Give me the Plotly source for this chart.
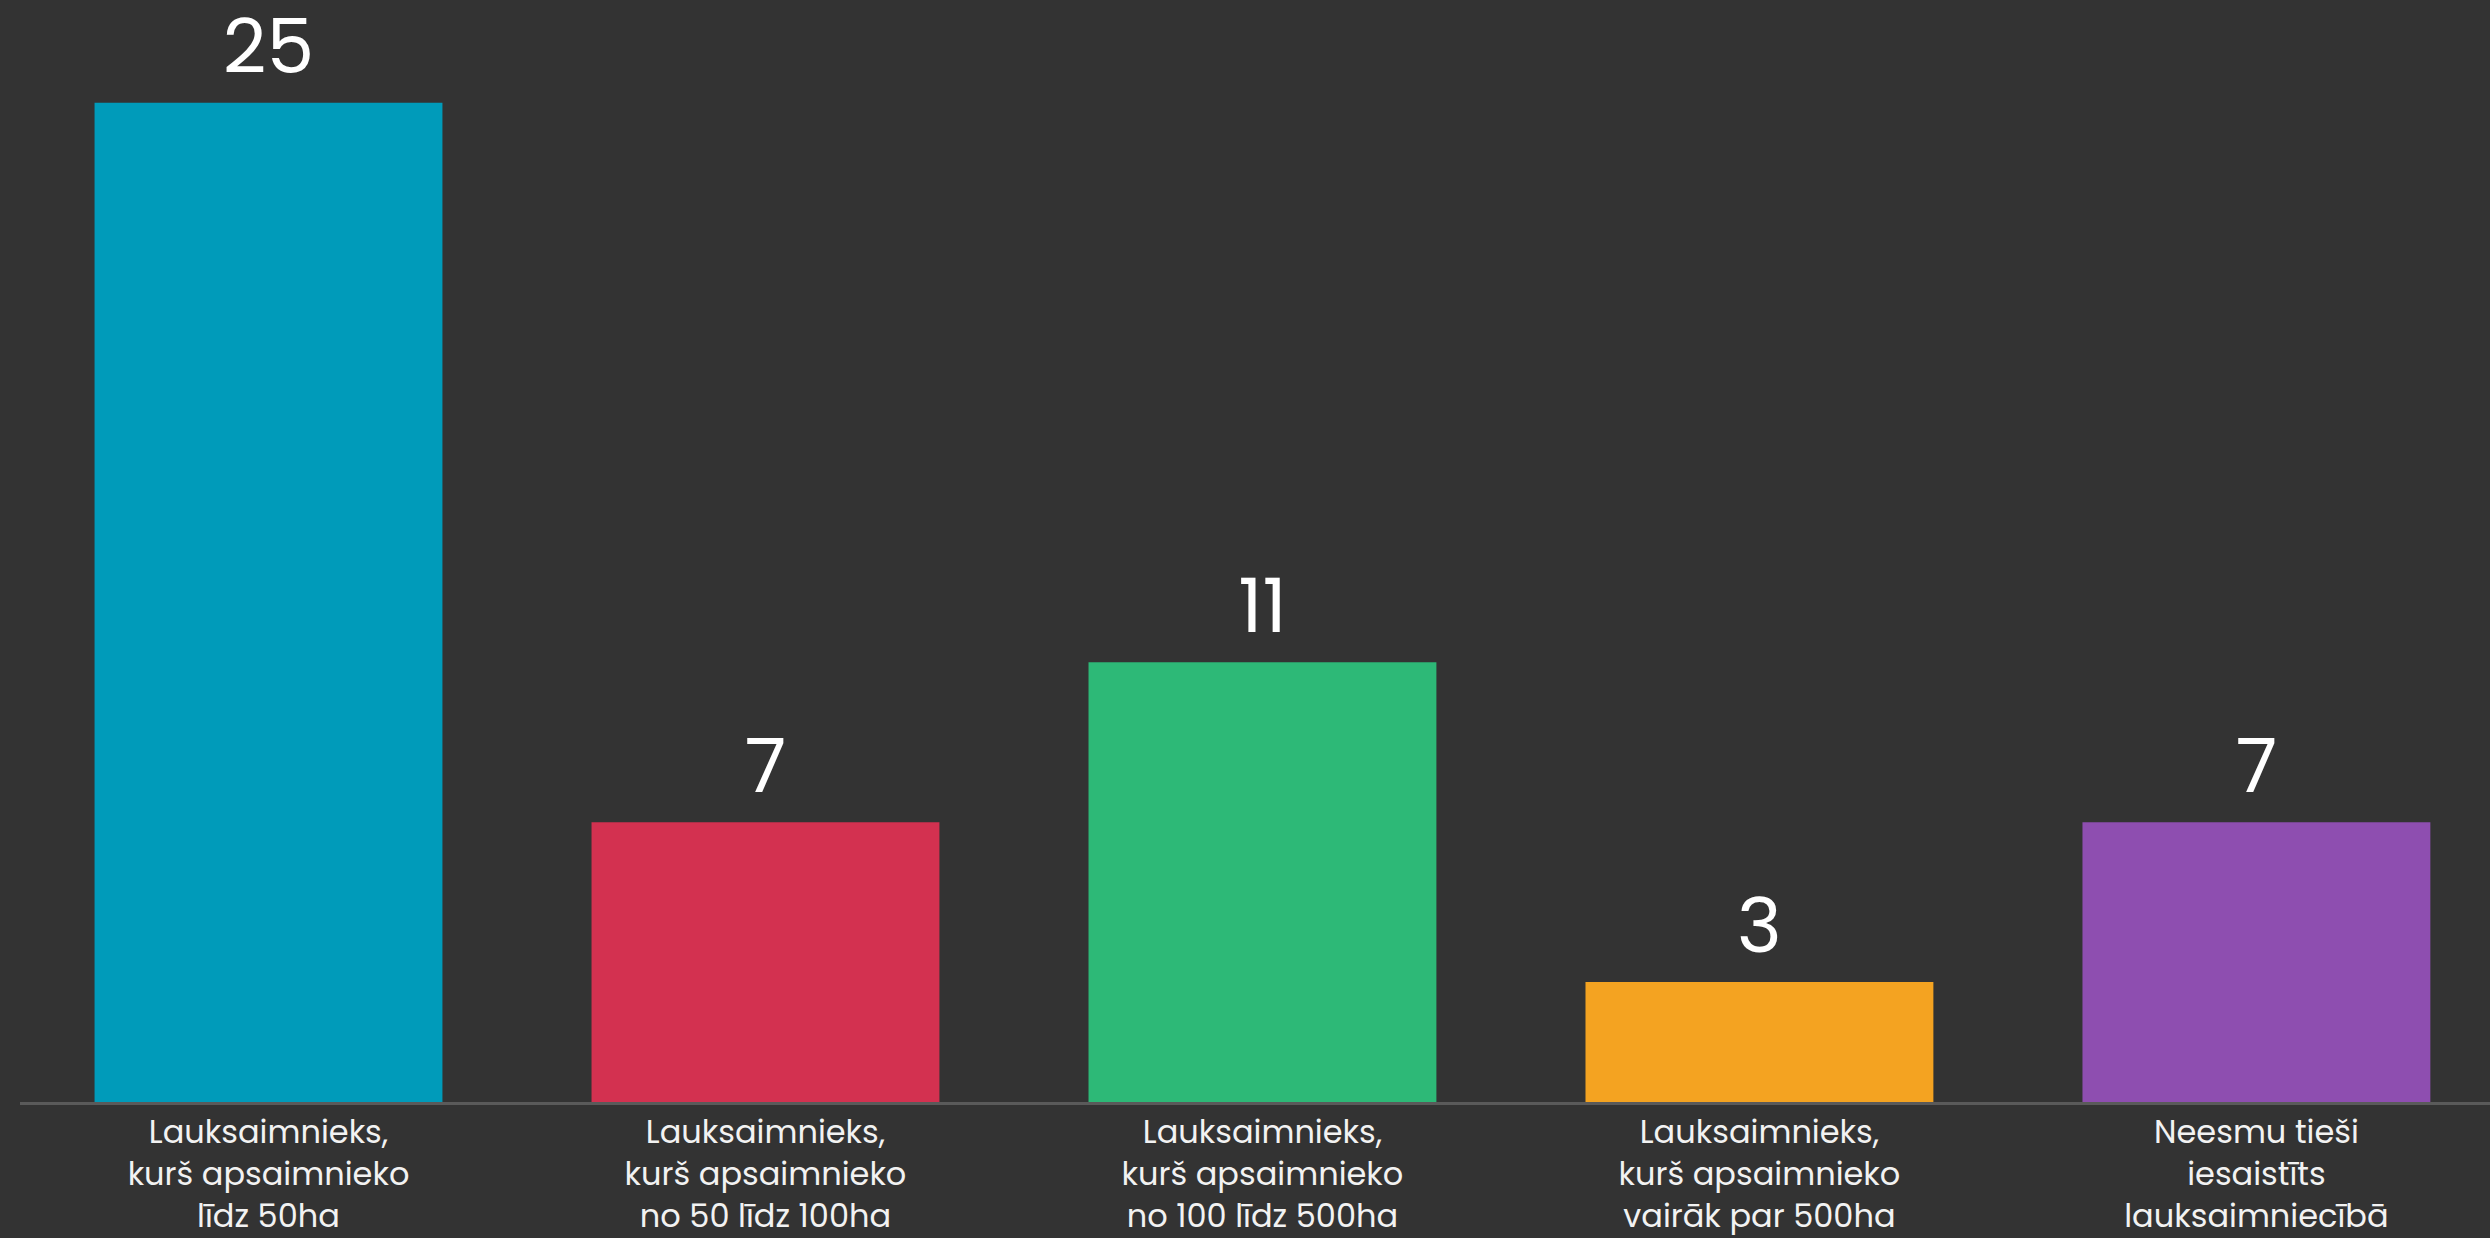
import plotly.graph_objects as go

categories = [
    "Lauksaimnieks,<br>kurš apsaimnieko<br>līdz 50ha",
    "Lauksaimnieks,<br>kurš apsaimnieko<br>no 50 līdz 100ha",
    "Lauksaimnieks,<br>kurš apsaimnieko<br>no 100 līdz 500ha",
    "Lauksaimnieks,<br>kurš apsaimnieko<br>vairāk par 500ha",
    "Neesmu tieši<br>iesaistīts<br>lauksaimniecībā",
]
values = [25, 7, 11, 3, 7]
colors = ["#009bba", "#d33150", "#2db977", "#f4a321", "#8e4eb0"]

fig = go.Figure(go.Bar(
    x=categories, y=values, marker_color=colors, marker_line_width=0,
    text=values, textposition="outside", cliponaxis=False,
    textfont=dict(size=76, color="#ffffff"), showlegend=False,
))

fig.update_layout(
    width=2490, height=1238,
    paper_bgcolor="#333333", plot_bgcolor="#333333",
    margin=dict(l=20, r=0, t=20, b=133),
    bargap=0.3,
    font=dict(family="Poppins, Lato, sans-serif", color="#f2f2f2"),
)
fig.update_xaxes(
    range=[-0.5, 4.47], showgrid=False, zeroline=False,
    showline=True, linecolor="#5a5a5a", linewidth=3,
    ticks="", tickfont=dict(size=32, color="#f2f2f2"),
)
fig.update_yaxes(
    range=[0, 27.07], showgrid=False, zeroline=False,
    showticklabels=False, showline=False,
)

# drop the browser's default page margin so the chart fills the window
fig.write_html(
    "out.html",
    config={"displayModeBar": False},
    post_script="document.body.style.margin='0';document.body.style.background='#333333';",
)
